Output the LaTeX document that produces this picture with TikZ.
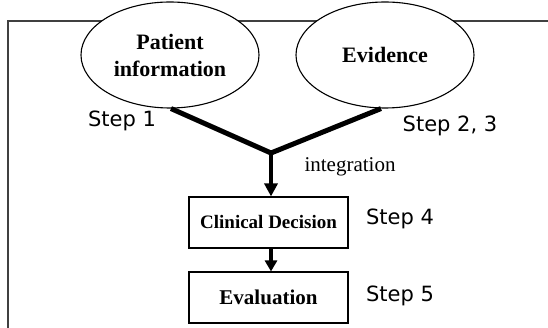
\documentclass[tikz,border=0pt]{standalone}
\usepackage{fontspec}
\setmainfont{Liberation Serif}
\newfontfamily\stepfont{DejaVu Sans}
\usetikzlibrary{arrows.meta,shapes.geometric}
\tikzset{
  framepen/.style={draw=black!75, line width=1.2pt},
  oval/.style={ellipse, draw=black, line width=1.1pt, fill=white, minimum width=178pt, minimum height=106pt, inner sep=0pt, align=center, font=\fontsize{22}{27}\selectfont\bfseries},
  stepbox/.style={rectangle, draw=black, line width=1.1pt, fill=white, minimum width=159pt, minimum height=51pt, inner sep=0pt, font=\bfseries},
  steplabel/.style={font=\stepfont\fontsize{21}{24}\selectfont, inner sep=0pt},
  thickline/.style={line width=5pt, line join=miter},
  arrowline/.style={line width=4.5pt, -{Triangle[length=13pt,width=13pt]}},
}
\begin{document}
\begin{tikzpicture}[x=1pt,y=-1pt]
\useasboundingbox (0,0) rectangle (548,328);
\draw[framepen] (8,330) -- (8,21) -- (550,21);
\node[oval] (e1) at (170,55) {Patient\\information};
\node[oval] (e2) at (385,55) {Evidence};
\coordinate (j) at (271,153);
\node[stepbox, font=\fontsize{19}{22}\selectfont\bfseries] (b1) at (268.5,222.5) {Clinical Decision};
\node[stepbox, font=\fontsize{21}{24}\selectfont\bfseries] (b2) at (268.5,297.5) {Evaluation};
\draw[thickline] ([xshift=1pt]e1.south) -- (j) -- ([xshift=-4pt]e2.south);
\draw[arrowline] (j) -- (j |- b1.north);
\draw[arrowline, line width=4pt, -{Triangle[length=11pt,width=12pt]}] (j |- b1.south) -- (j |- b2.north);
\node[steplabel] (s1) at (122,121) {Step 1};
\node[steplabel] (s23) at (450,126) {Step 2, 3};
\node[font=\fontsize{21}{24}\selectfont, inner sep=0pt] (integ) at (350,167) {integration};
\node[steplabel] (s4) at (400,219) {Step 4};
\node[steplabel] (s5) at (400,296) {Step 5};
\end{tikzpicture}
\end{document}
